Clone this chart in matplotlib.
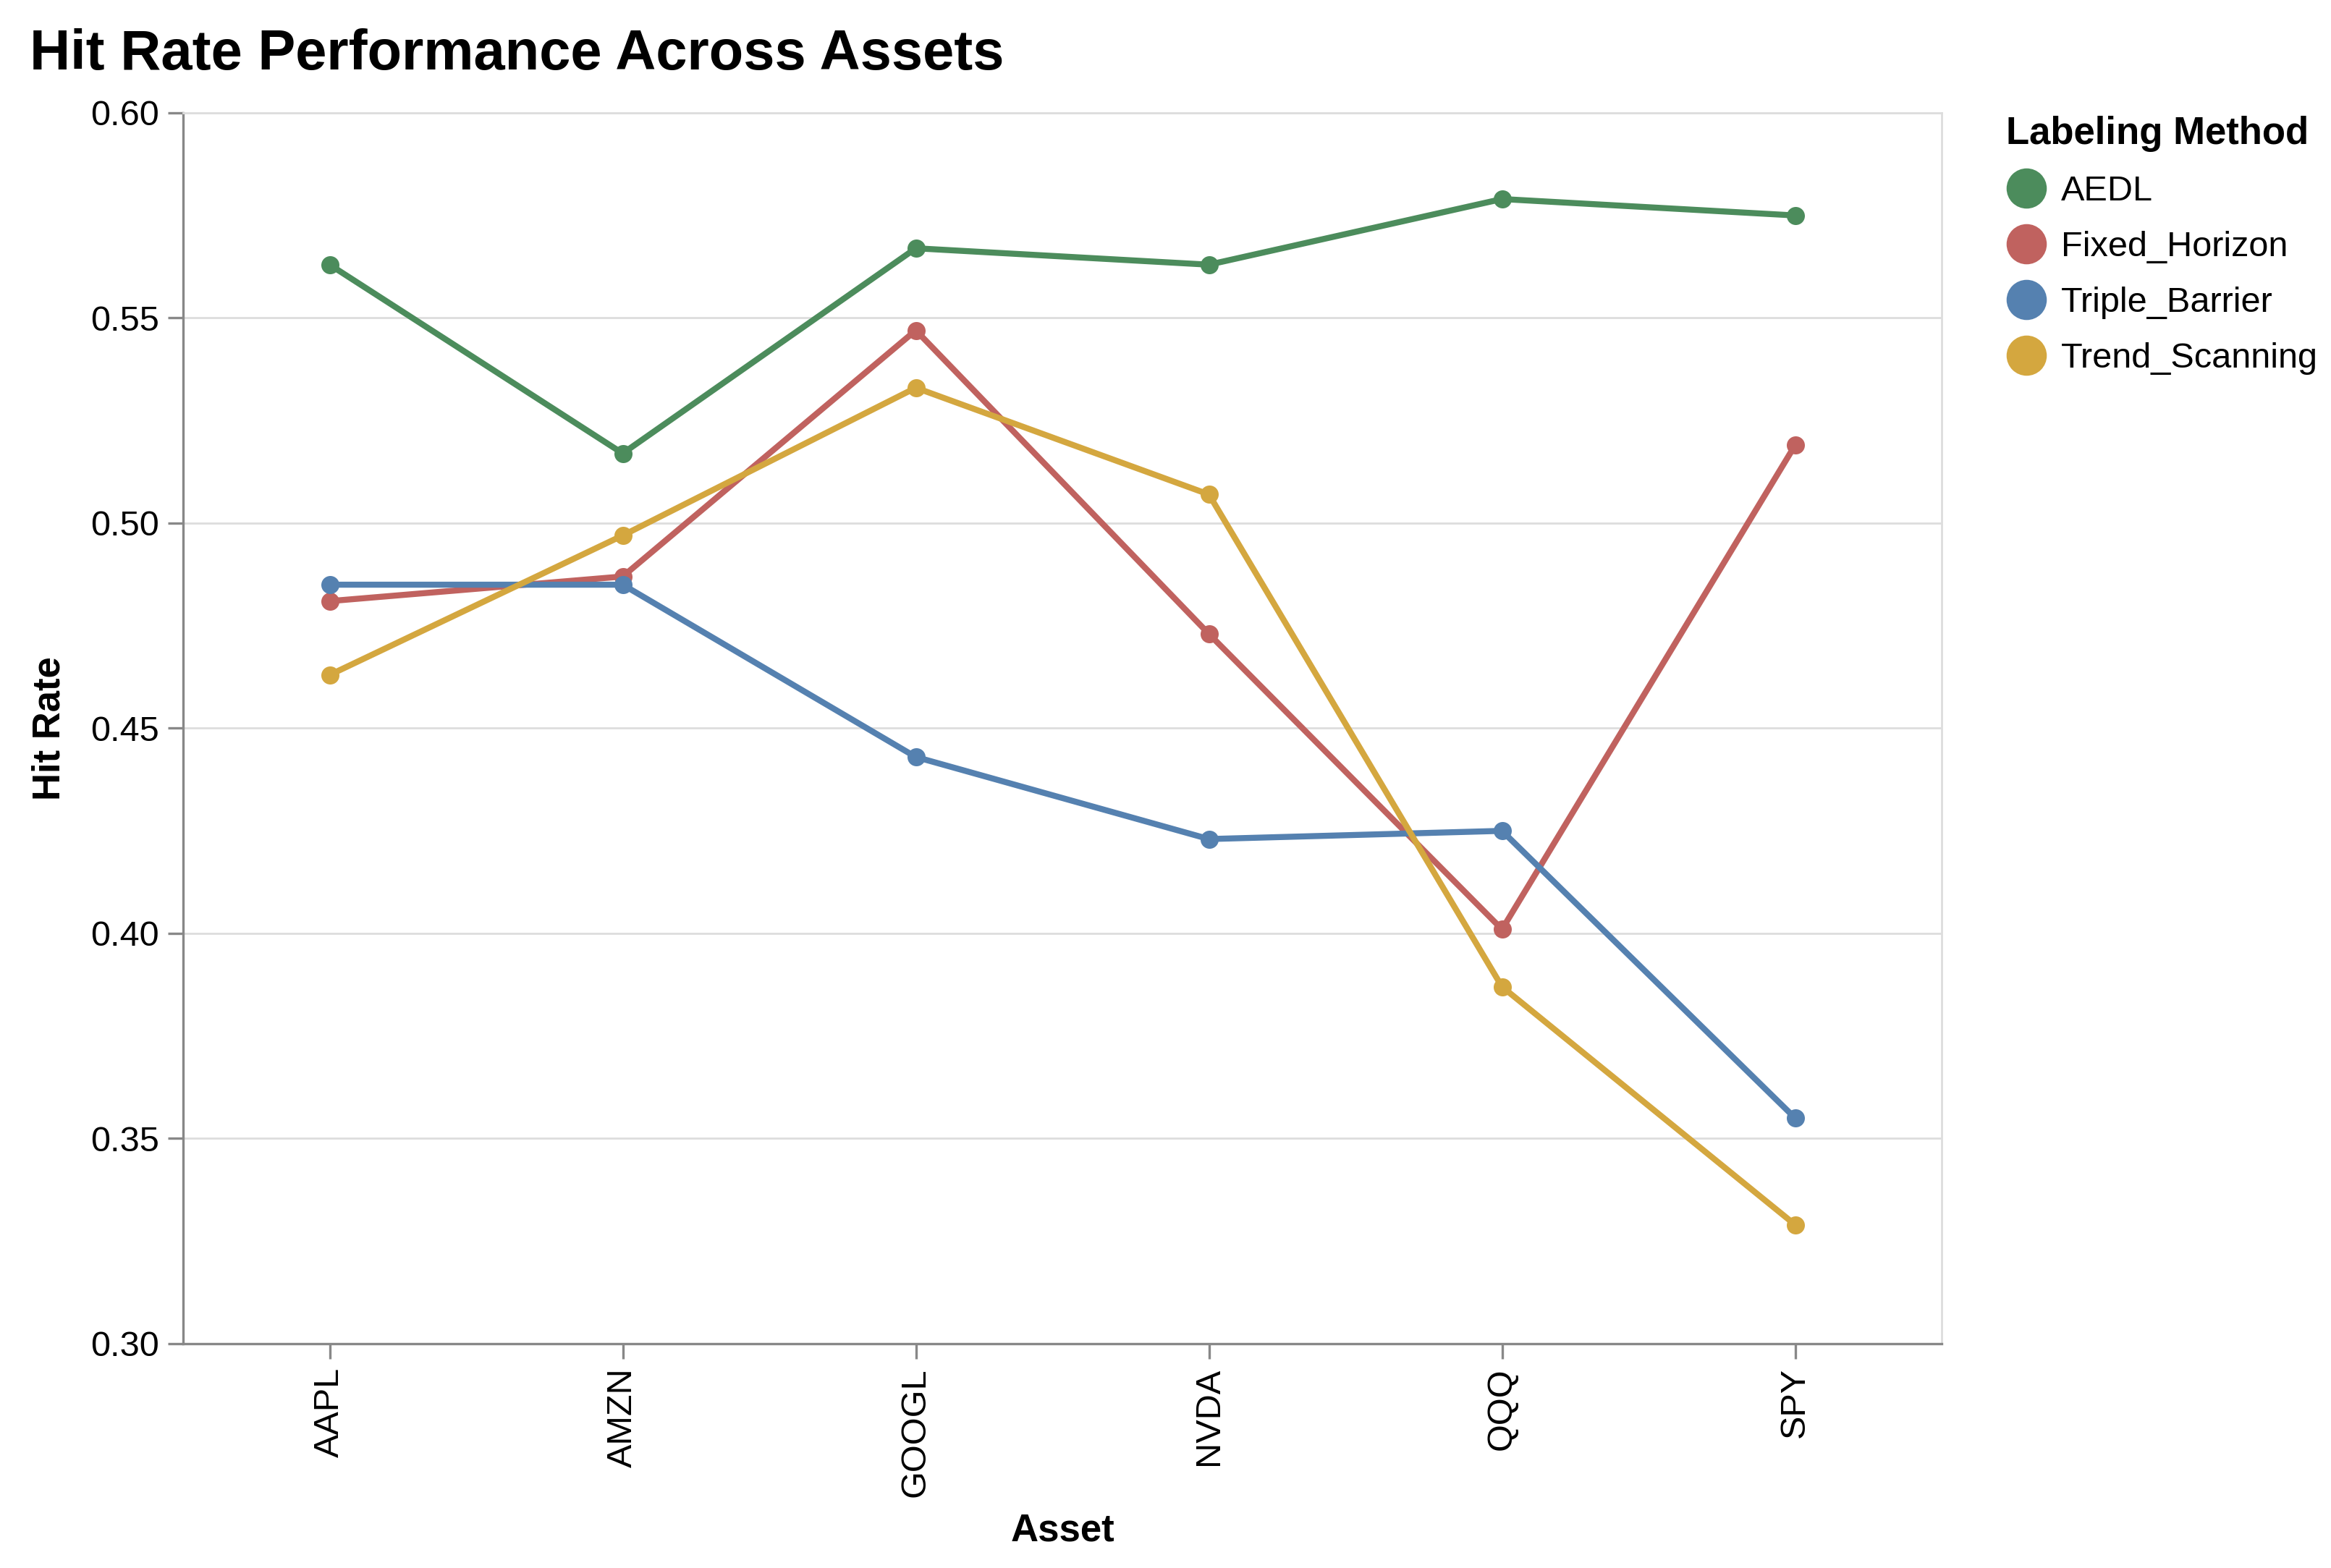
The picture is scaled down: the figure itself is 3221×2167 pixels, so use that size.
import matplotlib.pyplot as plt
from matplotlib.lines import Line2D

plt.rcParams['font.family'] = ['Liberation Sans', 'DejaVu Sans']

# Data
assets = ['AAPL', 'AMZN', 'GOOGL', 'NVDA', 'QQQ', 'SPY']
methods = ['AEDL', 'Fixed_Horizon', 'Triple_Barrier', 'Trend_Scanning']
aedl = [0.563, 0.517, 0.567, 0.563, 0.579, 0.575]
fixed_horizon = [0.481, 0.487, 0.547, 0.473, 0.401, 0.519]
triple_barrier = [0.485, 0.485, 0.443, 0.423, 0.425, 0.355]
trend_scanning = [0.463, 0.497, 0.533, 0.507, 0.387, 0.329]
y_ticks = [0.30, 0.35, 0.40, 0.45, 0.50, 0.55, 0.60]

series = [aedl, fixed_horizon, triple_barrier, trend_scanning]
colors = ['#4c8c5c', '#c0625f', '#5581b0', '#d4a73f']

W, H = 3221, 2167
fig = plt.figure(figsize=(W / 200, H / 200), dpi=200)
ax = fig.add_axes([253 / W, 1 - 1857 / H, 2430 / W, 1701 / H])

x = list(range(len(assets)))
for vals, col in zip(series, colors):
    ax.plot(x, vals, color=col, linewidth=3.0, marker='o', markersize=8,
            solid_capstyle='round', zorder=3)

ax.set_xlim(-0.5, len(assets) - 0.5)
ax.set_ylim(0.30, 0.60)
ax.set_xticks(x)
ax.set_xticklabels(assets, rotation=90)
ax.set_yticks(y_ticks)
ax.set_yticklabels([f'{v:.2f}' for v in y_ticks])

ax.grid(axis='y', color='#dddddd', linewidth=1.0, zorder=0)
ax.set_axisbelow(True)
for side in ['left', 'bottom']:
    ax.spines[side].set_color('#888888')
    ax.spines[side].set_linewidth(1.2)
for side in ['top', 'right']:
    ax.spines[side].set_color('#dddddd')
    ax.spines[side].set_linewidth(1.0)
ax.tick_params(axis='both', length=7.5, width=1.2, color='#888888',
               labelsize=17.5, pad=4.5)

ax.set_ylabel('Hit Rate', fontsize=19, fontweight='bold')
ax.yaxis.label.set_va('center')
ax.yaxis.set_label_coords(-0.0761, 0.5)
ax.set_xlabel('Asset', fontsize=19, fontweight='bold')
ax.xaxis.label.set_va('center')
ax.xaxis.set_label_coords(0.5, -0.152)

fig.text(41 / W, 1 - 96 / H, 'Hit Rate Performance Across Assets',
         fontsize=28, fontweight='bold', va='baseline', ha='left')

handles = [Line2D([], [], linestyle='', marker='o', markersize=19, color=c)
           for c in colors]
leg = fig.legend(handles, methods, loc='upper left',
                 bbox_to_anchor=(2772 / W, 1 - 160 / H), frameon=False,
                 fontsize=17.5, title='Labeling Method',
                 title_fontproperties={'weight': 'bold', 'size': 19},
                 alignment='left', handletextpad=0.42, labelspacing=0.66,
                 handlelength=1.15, borderaxespad=0, borderpad=0)

fig.savefig('out.png', dpi=200)
